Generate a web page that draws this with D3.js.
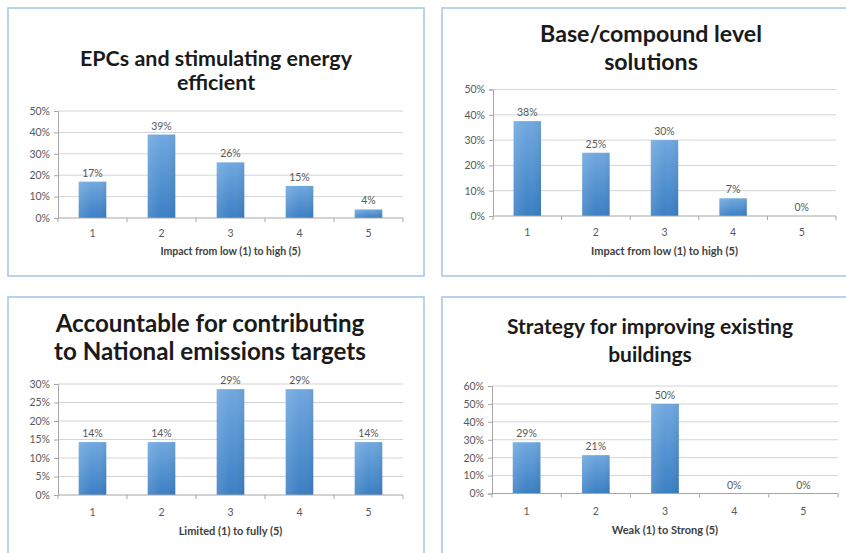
<!DOCTYPE html>
<html><head><meta charset="utf-8">
<script src="https://cdn.jsdelivr.net/npm/d3@7"></script>
<style>
html,body{margin:0;padding:0;background:#fff;}
svg{display:block;}
text{font-family:Lato,"Open Sans",sans-serif;}
</style></head>
<body>
<script>
// ---- data ----
const categories = ["1","2","3","4","5"];

const title1 = ["EPCs and stimulating energy","efficient"];
const values1 = [17, 39, 26, 15, 4];
const yTicks1 = [0, 10, 20, 30, 40, 50];
const axisTitle1 = "Impact from low (1) to high (5)";

const title2 = ["Base/compound level","solutions"];
const values2 = [37.5, 25, 30, 7, 0];
const yTicks2 = [0, 10, 20, 30, 40, 50];
const axisTitle2 = "Impact from low (1) to high (5)";

const title3 = ["Accountable for contributing","to National emissions targets"];
const values3 = [14.3, 14.3, 28.6, 28.6, 14.3];
const yTicks3 = [0, 5, 10, 15, 20, 25, 30];
const axisTitle3 = "Limited (1) to fully (5)";

const title4 = ["Strategy for improving existing","buildings"];
const values4 = [28.6, 21.4, 50, 0, 0];
const yTicks4 = [0, 10, 20, 30, 40, 50, 60];
const axisTitle4 = "Weak (1) to Strong (5)";

// ---- layout (positions / styles) ----
const W = 846, H = 553;
const panels = [
  {title:title1, values:values1, ticks:yTicks1, axisTitle:axisTitle1,
   box:[8,8,424,276], plot:{x0:58,x1:403,y0:218,y1:111}, tcx:216, tBase:[66,90], tW:272, tick:236.5, at:254.5, atSize:10.5},
  {title:title2, values:values2, ticks:yTicks2, axisTitle:axisTitle2,
   box:[442,8,880,276], plot:{x0:493,x1:836,y0:216,y1:89.5}, tcx:651, tBase:[42,70], tW:222, tick:236, at:255, atSize:11},
  {title:title3, values:values3, ticks:yTicks3, axisTitle:axisTitle3,
   box:[8,297,424,600], plot:{x0:58,x1:403,y0:495,y1:384}, tcx:210, tBase:[332,360], tW:312, tick:515.5, at:535, atSize:11},
  {title:title4, values:values4, ticks:yTicks4, axisTitle:axisTitle4,
   box:[442,297,880,600], plot:{x0:492,x1:838,y0:493.5,y1:386}, tcx:650, tBase:[334,362], tW:286, tick:515, at:534, atSize:11}
];

const svg = d3.select("body").append("svg").attr("width",W).attr("height",H);
const defs = svg.append("defs");
const grad = defs.append("linearGradient").attr("id","barGrad")
  .attr("x1",0).attr("y1",0).attr("x2",0).attr("y2",1);
grad.append("stop").attr("offset","0%").attr("stop-color","#70a8df");
grad.append("stop").attr("offset","100%").attr("stop-color","#3b7fc4");
const gradH = defs.append("linearGradient").attr("id","barEdge")
  .attr("x1",0).attr("y1",0).attr("x2",1).attr("y2",0);
gradH.append("stop").attr("offset","0%").attr("stop-color","#fff").attr("stop-opacity",0.12);
gradH.append("stop").attr("offset","50%").attr("stop-color","#fff").attr("stop-opacity",0);
gradH.append("stop").attr("offset","100%").attr("stop-color","#000").attr("stop-opacity",0.06);

panels.forEach(p => {
  const g = svg.append("g");
  const [bx0,by0,bx1,by1] = p.box;
  g.append("rect").attr("x",bx0).attr("y",by0).attr("width",bx1-bx0).attr("height",by1-by0)
    .attr("fill","#fff").attr("stroke","#a8c8ec").attr("stroke-width",1.6);

  const maxT = p.ticks[p.ticks.length-1];
  const x = d3.scaleBand().domain(categories).range([p.plot.x0,p.plot.x1])
    .paddingInner(0.6).paddingOuter(0.3);
  const y = d3.scaleLinear().domain([0,maxT]).range([p.plot.y0,p.plot.y1]);

  // gridlines
  g.append("g").selectAll("line").data(p.ticks.filter(t=>t>0)).join("line")
    .attr("x1",p.plot.x0).attr("x2",p.plot.x1)
    .attr("y1",d=>y(d)).attr("y2",d=>y(d))
    .attr("stroke","#d4d4d4").attr("stroke-width",1);

  // y axis
  const yAxis = d3.axisLeft(y).tickValues(p.ticks).tickSize(4).tickPadding(4)
    .tickFormat(d=>d+"%");
  const ya = g.append("g").attr("transform",`translate(${p.plot.x0},0)`).call(yAxis);
  ya.select(".domain").attr("stroke","#a6a6a6");
  ya.selectAll(".tick line").attr("stroke","#a6a6a6");
  ya.selectAll(".tick text").attr("fill","#595959").style("font-size","10.5px")
    .style("font-family","Lato, sans-serif");

  // bars
  const bars = g.append("g");
  bars.selectAll("rect.bar").data(p.values).join("rect").attr("class","bar")
    .attr("x",(d,i)=>x(categories[i])).attr("width",x.bandwidth())
    .attr("y",d=>y(d)).attr("height",d=>y(0)-y(d))
    .attr("fill","url(#barGrad)");
  bars.selectAll("rect.edge").data(p.values).join("rect").attr("class","edge")
    .attr("x",(d,i)=>x(categories[i])).attr("width",x.bandwidth())
    .attr("y",d=>y(d)).attr("height",d=>y(0)-y(d))
    .attr("fill","url(#barEdge)");

  // x axis line & ticks
  const step = x.step();
  g.append("line").attr("x1",p.plot.x0).attr("x2",p.plot.x1)
    .attr("y1",y(0)).attr("y2",y(0)).attr("stroke","#a6a6a6");
  const bounds = d3.range(categories.length+1).map(i=>p.plot.x0 + i*step);
  g.append("g").selectAll("line").data(bounds).join("line")
    .attr("x1",d=>d).attr("x2",d=>d).attr("y1",y(0)).attr("y2",y(0)+4)
    .attr("stroke","#a6a6a6");
  g.append("g").selectAll("text").data(categories).join("text")
    .attr("x",d=>x(d)+x.bandwidth()/2).attr("y",p.tick)
    .attr("text-anchor","middle").attr("fill","#595959").style("font-size","10.5px")
    .text(d=>d);

  // data labels
  g.append("g").selectAll("text").data(p.values).join("text")
    .attr("x",(d,i)=>x(categories[i])+x.bandwidth()/2).attr("y",d=>y(d)-5)
    .attr("text-anchor","middle").attr("fill","#595959").style("font-size","10.5px")
    .text(d=>Math.round(d)+"%");

  // axis title
  g.append("text").attr("x",(p.plot.x0+p.plot.x1)/2).attr("y",p.at)
    .attr("text-anchor","middle").attr("fill","#404040").style("font-weight","bold")
    .style("font-size",p.atSize+"px").text(p.axisTitle);

  // chart title (fit longest line to target width)
  const tl = g.append("g").selectAll("text").data(p.title).join("text")
    .attr("x",p.tcx).attr("y",(d,i)=>p.tBase[i])
    .attr("text-anchor","middle").attr("fill","#1a1a1a").style("font-weight","bold")
    .style("font-size","20px").text(d=>d);
  const wLen = d3.max(tl.nodes(), n=>n.getComputedTextLength());
  const fs = 20 * p.tW / wLen;
  tl.style("font-size", fs.toFixed(2)+"px");
});
</script>
</body></html>
